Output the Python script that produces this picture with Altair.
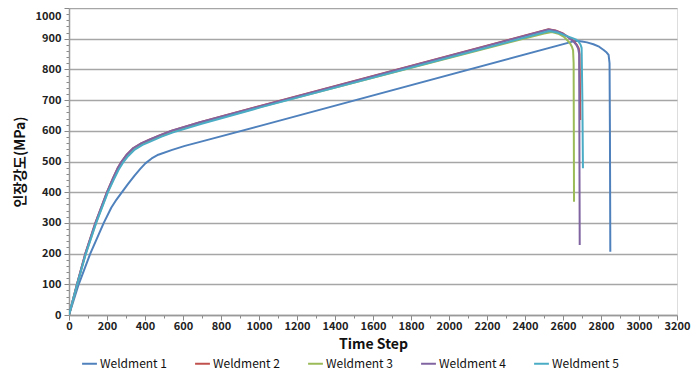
import altair as alt
import pandas as pd

series_names = ["Weldment 1", "Weldment 2", "Weldment 3", "Weldment 4", "Weldment 5"]
colors = ["#4F81BD", "#C0504D", "#9BBB59", "#8064A2", "#4BACC6"]

w1_x = [0, 51, 112, 183, 223, 250, 279, 310, 345, 375, 402, 435, 470, 543, 610, 690, 1006, 2665, 2700, 2726, 2760, 2790, 2814, 2830, 2840, 2845, 2847, 2849]
w1_y = [0, 100, 200, 300, 350, 376, 400, 426, 454, 476, 494, 510, 522, 538, 551, 564, 616, 893, 891, 888, 882, 874, 863, 855, 847, 820, 600, 206]

w2_x = [0, 42, 86, 139, 200, 230, 255, 277, 305, 339, 380, 420, 480, 541, 690, 1006, 2524, 2560, 2600, 2638, 2660, 2674, 2683, 2687, 2689, 2691]
w2_y = [0, 100, 200, 300, 400, 443, 477, 500, 523, 544, 559, 570, 586, 600, 628, 681, 931, 927, 917, 901, 890, 879, 868, 850, 750, 635]

w3_x = [0, 43, 88, 142, 203, 233, 259, 281, 309, 344, 384, 425, 485, 546, 695, 1010, 2500, 2542, 2580, 2605, 2621, 2637, 2647, 2653, 2656, 2658]
w3_y = [0, 100, 200, 300, 400, 441, 475, 498, 520, 541, 556, 567, 583, 597, 625, 678, 917, 922, 915, 906, 896, 885, 874, 862, 820, 369]

w4_x = [0, 42, 86, 139, 200, 230, 255, 277, 305, 339, 380, 420, 480, 541, 690, 1006, 2524, 2560, 2600, 2638, 2658, 2672, 2680, 2685, 2688]
w4_y = [0, 100, 200, 300, 400, 443, 477, 500, 523, 544, 559, 570, 586, 600, 628, 680, 930, 926, 916, 900, 889, 878, 868, 850, 228]

w5_x = [0, 43, 89, 143, 205, 235, 261, 284, 312, 346, 387, 427, 487, 548, 698, 1012, 2528, 2570, 2610, 2650, 2670, 2682, 2692, 2698, 2702, 2705]
w5_y = [0, 100, 200, 300, 400, 440, 473, 496, 518, 539, 554, 565, 581, 595, 623, 677, 925, 920, 911, 902, 897, 890, 881, 870, 700, 478]

xs = [w1_x, w2_x, w3_x, w4_x, w5_x]
ys = [w1_y, w2_y, w3_y, w4_y, w5_y]

rows = []
for name, xv, yv in zip(series_names, xs, ys):
    for i, (a, b) in enumerate(zip(xv, yv)):
        rows.append({"series": name, "step": a, "stress": b, "order": i})
df = pd.DataFrame(rows)

FONT = "Noto Sans CJK KR"

x_minor = list(range(0, 3201, 100))
y_minor = list(range(0, 1001, 20))

chart = alt.Chart(df).mark_line(strokeWidth=2, clip=True, strokeJoin="round").encode(
    x=alt.X(
        "step:Q",
        scale=alt.Scale(domain=[0, 3200], nice=False),
        axis=alt.Axis(
            values=x_minor,
            labelExpr="datum.value % 200 === 0 ? datum.label : ''",
            format="d",
            title="Time Step",
            grid=False,
            tickSize={"condition": {"test": "datum.value % 200 === 0", "value": 5}, "value": 3},
            tickColor="#888888",
            domainColor="#999999",
            domainWidth=1.5,
            labelFont=FONT,
            labelFontWeight="bold",
            labelFontSize=11,
            labelColor="#222222",
            labelPadding=0,
            titleFont=FONT,
            titleFontWeight="bold",
            titleFontSize=14,
            titleColor="#111111",
            titlePadding=6,
            labelFlush=False,
        ),
    ),
    y=alt.Y(
        "stress:Q",
        scale=alt.Scale(domain=[0, 1000], nice=False),
        axis=alt.Axis(
            values=y_minor,
            labelExpr="datum.value % 100 === 0 ? datum.label : ''",
            labelBaseline={"condition": {"test": "datum.value === 1000", "value": "top"}, "value": "middle"},
            labelOffset={"condition": {"test": "datum.value === 1000", "value": 2}, "value": 0},
            format="d",
            title="인장강도(MPa)",
            grid=True,
            gridColor={"condition": {"test": "datum.value % 100 === 0", "value": "#A6A6A6"}, "value": "rgba(0,0,0,0)"},
            gridWidth=1.5,
            tickSize={"condition": {"test": "datum.value % 100 === 0", "value": 5}, "value": 3},
            tickColor="#888888",
            domainColor="#999999",
            domainWidth=1.5,
            labelFont=FONT,
            labelFontWeight="bold",
            labelFontSize=11,
            labelColor="#222222",
            labelPadding=3,
            titleFont=FONT,
            titleFontWeight="bold",
            titleFontSize=14,
            titleColor="#111111",
            titlePadding=8,
            labelFlush=False,
        ),
    ),
    color=alt.Color(
        "series:N",
        scale=alt.Scale(domain=series_names, range=colors),
        legend=alt.Legend(
            title=None,
            orient="none",
            legendX=12,
            legendY=347,
            direction="horizontal",
            symbolType="stroke",
            symbolStrokeWidth=2,
            symbolSize=220,
            labelFont=FONT,
            labelFontSize=12,
            labelColor="#111111",
            columnPadding=24,
            labelOffset=2,
        ),
    ),
    order="order:Q",
    detail="series:N",
).properties(
    width=608,
    height=307,
    padding={"left": 61, "top": 0, "right": 15, "bottom": 56},
    autosize=alt.AutoSizeParams(type="none"),
).configure_view(stroke=None).configure(background="white")

chart.save("out.html", embed_options={"renderer": "svg", "actions": False})
